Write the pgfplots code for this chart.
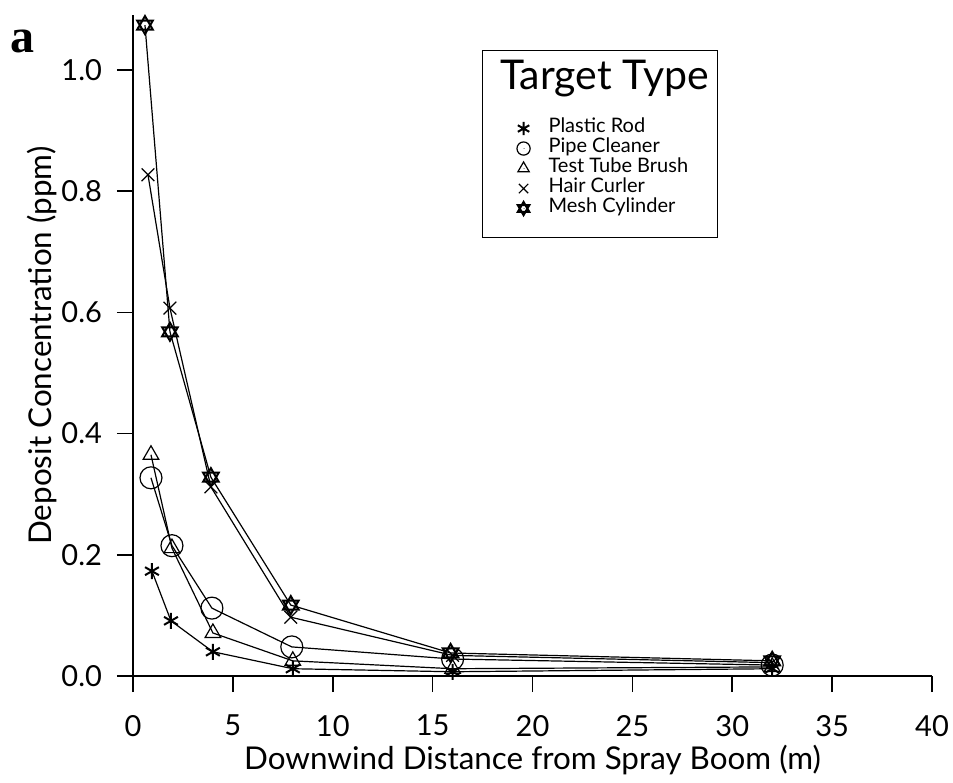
\documentclass[border=0pt]{standalone}
\usepackage{fontspec}
\setmainfont{Lato}
\newfontfamily\serifbold{Liberation Serif}
\usepackage{pgfplots}
\pgfplotsset{compat=1.18}

% six-pointed star (two triangles) for the mesh cylinder
\pgfdeclareplotmark{hexagram}{%
  \pgfpathmoveto{\pgfpointpolar{90}{\pgfplotmarksize}}%
  \pgfpathlineto{\pgfpointpolar{210}{\pgfplotmarksize}}%
  \pgfpathlineto{\pgfpointpolar{330}{\pgfplotmarksize}}%
  \pgfpathclose
  \pgfpathmoveto{\pgfpointpolar{270}{\pgfplotmarksize}}%
  \pgfpathlineto{\pgfpointpolar{30}{\pgfplotmarksize}}%
  \pgfpathlineto{\pgfpointpolar{150}{\pgfplotmarksize}}%
  \pgfpathclose
  \pgfusepathqstroke
}

\begin{document}
\begin{tikzpicture}
\begin{axis}[
    scale only axis,
    width=399.5pt, height=330.3pt,
    xmin=0, xmax=40,
    ymin=0, ymax=1.09,
    axis x line*=bottom,
    axis y line*=left,
    xtick={0,5,10,15,20,25,30,35,40},
    ytick={0,0.2,0.4,0.6,0.8,1.0},
    tick align=outside,
    major tick length=8pt,
    axis line style={line width=0.8pt},
    major tick style={line width=0.8pt, black},
    /pgf/number format/assume math mode=true,
    tick label style={font=\fontsize{14.5}{16}\selectfont},
    yticklabel={\pgfmathprintnumber[fixed, fixed zerofill, precision=1]{\tick}},
    yticklabel style={xshift=-4pt},
    xticklabel style={yshift=-8pt},
    label style={font=\fontsize{15.7}{18}\selectfont},
    xlabel={Downwind Distance from Spray Boom (m)},
    ylabel={Deposit Concentration (ppm)},
    xlabel style={at={(axis description cs:0.5,0)}, anchor=center, yshift=-42pt},
    ylabel style={at={(axis description cs:0,0.5)}, anchor=center, yshift=45.5pt},
    every axis plot/.append style={black, line width=0.6pt, mark options={solid}},
    legend cell align=left,
    legend image code/.code={%
        \path[draw=none] (-20.5pt,0pt) -- (10.5pt,0pt);
        \draw[#1, mark size=3.3pt, mark repeat=2, mark phase=2]
            plot coordinates {(-0.01pt,0pt)(0pt,0pt)(0.01pt,0pt)};},
    legend style={
        at={(axis cs:17.47,1.033)}, anchor=north west,
        draw=black, line width=0.6pt,
        inner xsep=0pt, inner ysep=9.5pt,
        font=\fontsize{10}{11}\selectfont,
        nodes={text height=7pt, text depth=3pt, inner ysep=0pt},
    },
]

\addlegendimage{empty legend}
\addlegendentry{\hspace*{-26.5pt}\raisebox{-3pt}{\makebox[109pt][c]{\fontsize{20.5}{24}\selectfont Target Type}}}
\addlegendimage{empty legend}
\addlegendentry[text height=11.5pt]{}

% Plastic Rod
\addplot[mark=asterisk, mark size=4pt, mark options={line width=1pt}]
    coordinates {(0.95,0.173)(1.9,0.091)(4,0.040)(8,0.012)(16,0.007)(32,0.012)};
\addlegendentry{Plastic Rod}

% Pipe Cleaner
\addplot[mark=o, mark size=5.5pt]
    coordinates {(0.9,0.327)(1.95,0.215)(3.95,0.112)(7.95,0.048)(16,0.028)(32,0.018)};
\addlegendentry{Pipe Cleaner}

% Test Tube Brush
\addplot[mark=triangle, mark size=4.5pt]
    coordinates {(0.9,0.365)(1.95,0.211)(4,0.071)(8,0.025)(16,0.012)(32,0.015)};
\addlegendentry{Test Tube Brush}

% Hair Curler
\addplot[mark=x, mark size=4.5pt]
    coordinates {(0.75,0.827)(1.85,0.607)(3.9,0.312)(7.9,0.097)(16,0.034)(32,0.022)};
\addlegendentry{Hair Curler}

% Mesh Cylinder
\addplot[mark=hexagram, mark size=4.5pt, mark options={line width=1pt}]
    coordinates {(0.6,1.074)(1.85,0.568)(3.9,0.328)(7.9,0.117)(15.9,0.038)(32,0.025)};
\addlegendentry{Mesh Cylinder}

\end{axis}
\node[font=\serifbold\bfseries\fontsize{24}{24}\selectfont] at (-55pt,317.5pt) {a};
\pgfresetboundingbox
\path (-66.5pt,-53pt) rectangle (410pt,338pt);
\end{tikzpicture}
\end{document}
